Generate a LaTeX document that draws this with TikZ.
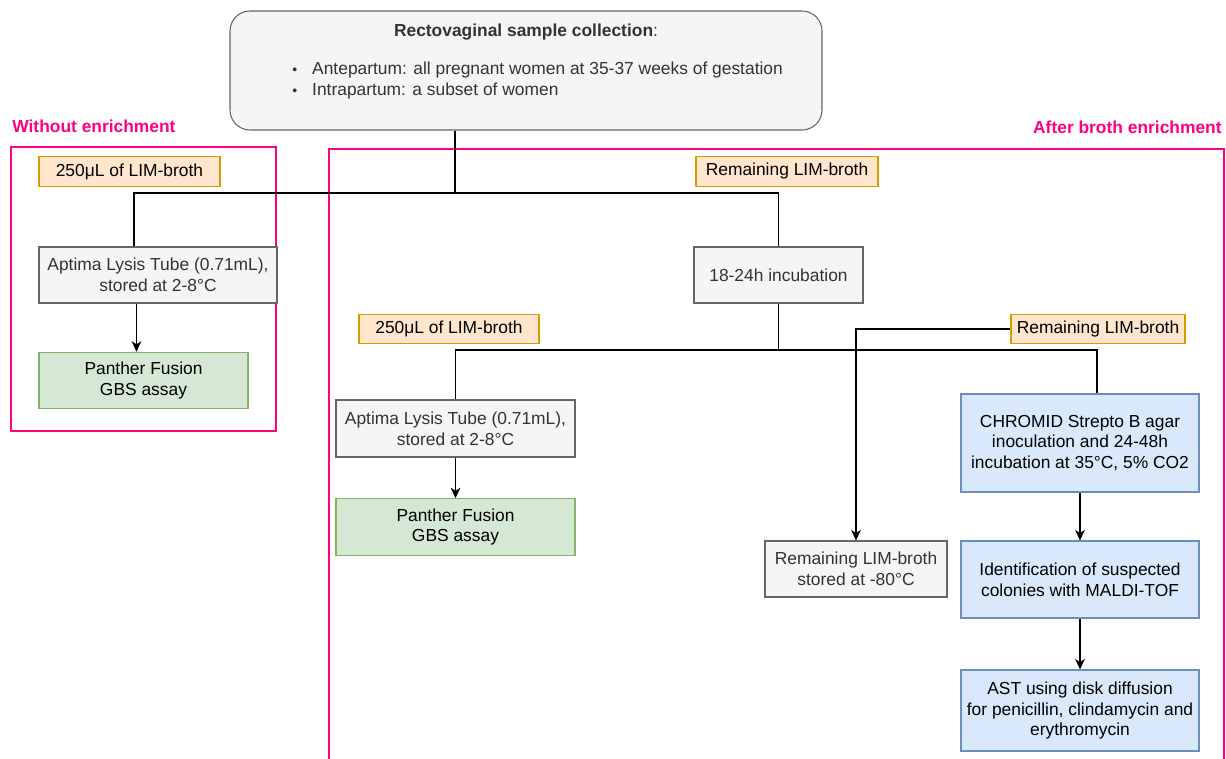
\documentclass[tikz,border=0pt]{standalone}
\usepackage{fontspec}
\setmainfont{Liberation Sans}
\usepackage{tikz}
\usetikzlibrary{calc,arrows.meta}
\definecolor{grayfill}{HTML}{F5F5F5}
\definecolor{grayline}{HTML}{666666}
\definecolor{graytext}{HTML}{333333}
\definecolor{orfill}{HTML}{FFE6CC}
\definecolor{orline}{HTML}{D79B00}
\definecolor{grfill}{HTML}{D5E8D4}
\definecolor{grline}{HTML}{82B366}
\definecolor{blfill}{HTML}{DAE8FC}
\definecolor{blline}{HTML}{6C8EBF}
\definecolor{pinkline}{HTML}{FF0080}

\begin{document}
\begin{tikzpicture}[
  every node/.style={font=\fontsize{9.9}{11.9}\selectfont, align=center, inner sep=2pt},
  graybox/.style={draw=grayline, fill=grayfill, text=graytext, line width=0.6pt},
  tagbox/.style={draw=orline, fill=orfill, line width=0.6pt, minimum height=0.59cm},
  greenbox/.style={draw=grline, fill=grfill, line width=0.6pt, minimum height=1.13cm},
  bluebox/.style={draw=blline, fill=blfill, line width=0.6pt, minimum width=4.76cm},
  frame/.style={draw=pinkline, line width=1.4pt},
  framelabel/.style={text=pinkline, font=\fontsize{9.9}{11.9}\selectfont\bfseries, inner sep=0pt},
  link/.style={line width=0.75pt},
  arr/.style={link, -{Stealth[length=6pt,width=5.5pt,inset=1.8pt]}}
]
  \useasboundingbox (0,0) rectangle (24.52,-15.16);

  % Sample collection
  \node[graybox, rounded corners=0.4cm, minimum width=11.84cm, minimum height=2.38cm] (coll) at (10.52,-1.41) {};
  \node[text=graytext] (collTitle) at (10.52,-0.64) {\textbf{Rectovaginal sample collection}:};
  \node[text=graytext, align=left, anchor=west, inner sep=0pt] (collList) at (5.84,-1.61)
    {{\fontsize{8}{8}\selectfont\textbullet}\hspace{8.5pt}Antepartum: all pregnant women at 35-37 weeks of gestation\\
     {\fontsize{8}{8}\selectfont\textbullet}\hspace{8.5pt}Intrapartum: a subset of women};

  % Frames
  \draw[frame] (0.22,-2.94) rectangle (5.52,-8.62);
  \draw[frame] (6.58,-15.2) -- (6.58,-2.98) -- (24.48,-2.98) -- (24.48,-15.2);
  \node[framelabel, anchor=west] (woLabel) at (0.24,-2.52) {Without enrichment};
  \node[framelabel, anchor=east] (abLabel) at (24.44,-2.54) {After broth enrichment};

  % Without enrichment
  \node[tagbox, minimum width=3.62cm] (tagA) at (2.59,-3.43) {250μL of LIM-broth};
  \node[graybox, minimum width=4.76cm, minimum height=1.12cm] (lysA) at (3.16,-5.50) {Aptima Lysis Tube (0.71mL),\\stored at 2-8°C};
  \node[greenbox, minimum width=4.18cm] (panA) at (2.87,-7.61) {Panther Fusion\\GBS assay};

  % After broth enrichment
  \node[tagbox, minimum width=3.64cm] (tagB) at (15.74,-3.43) {Remaining LIM-broth};
  \node[graybox, minimum width=3.38cm, minimum height=1.12cm] (inc) at (15.57,-5.50) {18-24h incubation};
  \node[tagbox, minimum width=3.60cm] (tagC) at (8.98,-6.58) {250μL of LIM-broth};
  \node[tagbox, minimum width=3.48cm] (tagD) at (21.96,-6.58) {Remaining LIM-broth};
  \node[graybox, minimum width=4.78cm, minimum height=1.14cm] (lysB) at (9.11,-8.57) {Aptima Lysis Tube (0.71mL),\\stored at 2-8°C};
  \node[greenbox, minimum width=4.78cm] (panB) at (9.11,-10.54) {Panther Fusion\\GBS assay};
  \node[graybox, minimum width=3.64cm, minimum height=1.12cm] (store) at (17.12,-11.38) {Remaining LIM-broth\\stored at -80°C};
  \node[bluebox, minimum height=1.96cm] (chrom) at (21.60,-8.86) {CHROMID Strepto B agar\\inoculation and 24-48h\\incubation at 35°C, 5\% CO2};
  \node[bluebox, minimum height=1.54cm] (ident) at (21.60,-11.59) {Identification of suspected\\colonies with MALDI-TOF};
  \node[bluebox, minimum height=1.62cm] (ast) at (21.60,-14.21) {AST using disk diffusion\\for penicillin, clindamycin and\\erythromycin};

  % Junctions
  \coordinate (top) at ($(coll.south west)!0.38!(coll.south east)$);
  \coordinate (splitA) at (top |- 0,-3.86);
  \coordinate (splitB) at (inc.south |- 0,-7.00);
  \coordinate (lysIn) at ($(lysA.north west)!0.40!(lysA.north east)$);
  \coordinate (lysOut) at ($(lysA.south west)!0.41!(lysA.south east)$);
  \coordinate (chromIn) at ($(chrom.north west)!0.571!(chrom.north east)$);

  % Links
  \draw[link] (top) -- (splitA);
  \draw[link] (lysIn) |- (splitA) -| (inc.north);
  \draw[arr] (lysOut) -- (lysOut |- panA.north);
  \draw[link] (inc.south) -- (splitB);
  \draw[link] (lysB.north) |- (splitB) -| (chromIn);
  \draw[arr] (lysB) -- (panB);
  \draw[arr] (tagD.west) -| (store.north);
  \draw[arr] (chrom) -- (ident);
  \draw[arr] (ident) -- (ast);
\end{tikzpicture}
\end{document}
